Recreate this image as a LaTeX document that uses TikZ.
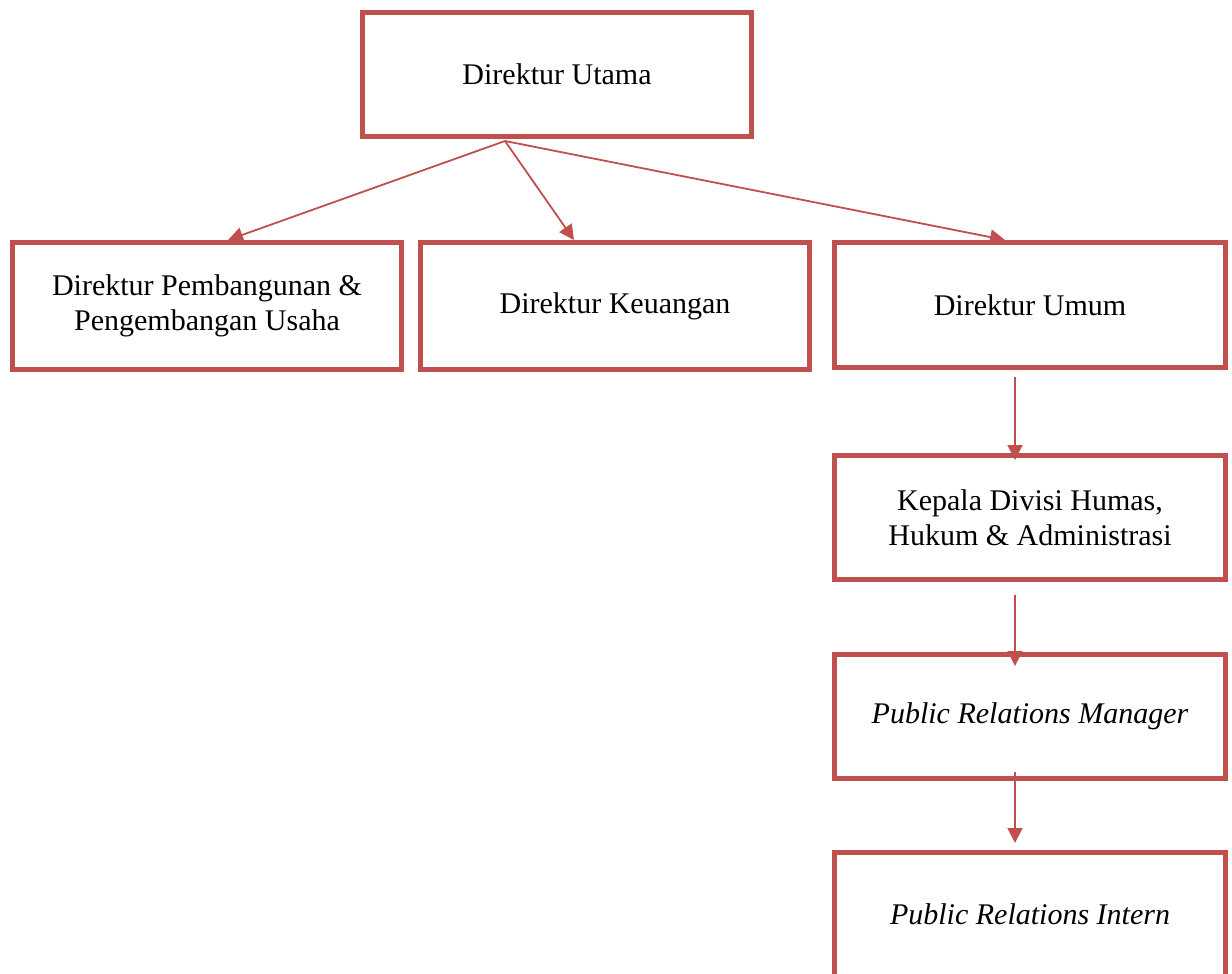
\documentclass[tikz,border=0pt]{standalone}
\usepackage{fontspec}
\setmainfont{Liberation Serif}
\usetikzlibrary{arrows.meta}
\definecolor{boxred}{HTML}{C0504D}
\begin{document}
\begin{tikzpicture}[x=1pt,y=-1pt,
  orgbox/.style={draw=boxred, line width=5pt, rectangle, inner sep=0pt,
    minimum width=389pt, minimum height=124pt, align=center,
    font=\fontsize{30pt}{35pt}\selectfont, text=black},
  link/.style={draw=boxred, line width=1.8pt, -{Triangle[length=15pt,width=15pt]}}]
\useasboundingbox (0,0) rectangle (1232,974);
\node[orgbox] (top) at (557,74.5) {Direktur Utama};
\node[orgbox, minimum height=127pt] (b1) at (207,306) {Direktur Pembangunan \&\\Pengembangan Usaha};
\node[orgbox, minimum height=127pt] (b2) at (615,306) {Direktur Keuangan};
\node[orgbox, minimum width=391pt, minimum height=125pt] (b3) at (1030,305) {Direktur Umum};
\node[orgbox, minimum width=391pt] (b4) at (1030,517.5) {Kepala Divisi Humas,\\Hukum \& Administrasi};
\node[orgbox, minimum width=391pt] (b5) at (1030,716.5) {\itshape Public Relations Manager};
\node[orgbox, minimum width=391pt] (b6) at (1030,914.5) {\itshape Public Relations Intern};
% connector end points (yshift is in canvas direction: negative = downwards)
\coordinate (o) at ([xshift=-52pt,yshift=-2pt]top.south);
\coordinate (e1) at ([xshift=21pt]b1.north);
\coordinate (e2) at ([xshift=-41pt]b2.north);
\coordinate (e3) at ([xshift=-25pt]b3.north);
\coordinate (s4) at ([xshift=-15pt,yshift=-7pt]b3.south);
\coordinate (e4) at ([xshift=-15pt,yshift=-7pt]b4.north);
\coordinate (s5) at ([xshift=-15pt,yshift=-13pt]b4.south);
\coordinate (e5) at ([xshift=-15pt,yshift=-14pt]b5.north);
\coordinate (s6) at ([xshift=-15pt,yshift=9pt]b5.south);
\coordinate (e6) at ([xshift=-15pt,yshift=7pt]b6.north);
\draw[link] (o) -- (e1);
\draw[link] (o) -- (e2);
\draw[link] (o) -- (e3);
\draw[link] (s4) -- (e4);
\draw[link] (s5) -- (e5);
\draw[link] (s6) -- (e6);
\end{tikzpicture}
\end{document}
